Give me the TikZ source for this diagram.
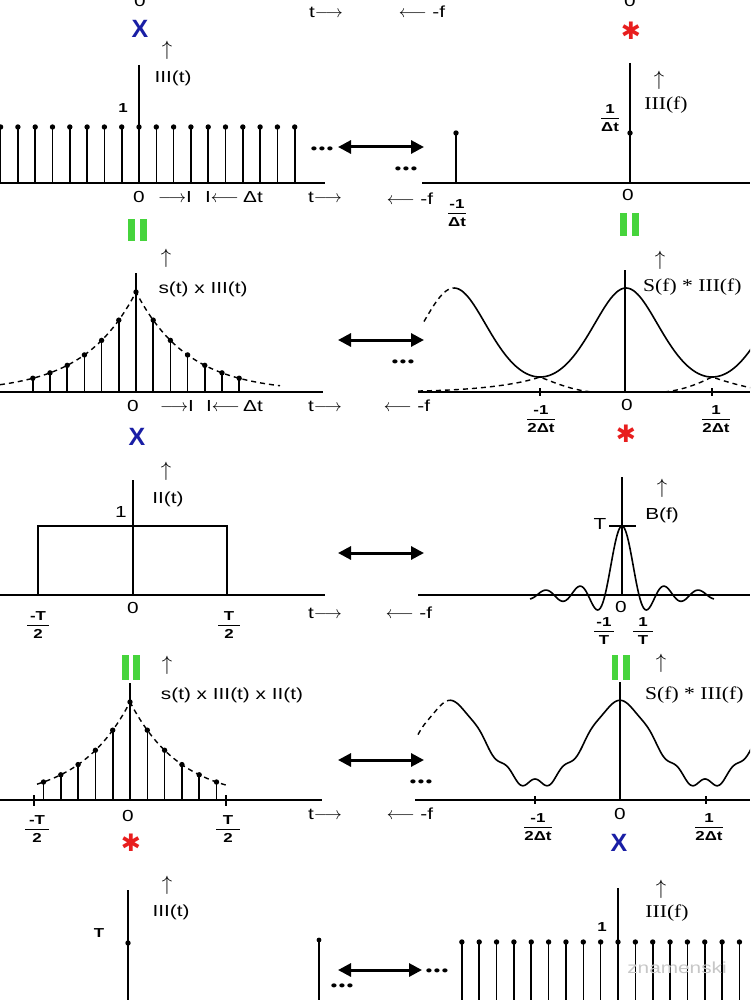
\documentclass[tikz,border=0pt]{standalone}
\usepackage{amsmath}
\usepackage{fontspec}
\setmainfont{Liberation Sans}[FakeStretch=1.3]
\newfontfamily\serifx{Liberation Serif}[FakeStretch=1.2]
\newfontfamily\xfont{Liberation Sans}
\newfontfamily\dv{DejaVu Sans}
\usetikzlibrary{arrows.meta}
\definecolor{xblue}{RGB}{25,30,165}
\definecolor{xred}{RGB}{232,30,30}
\definecolor{xgreen}{RGB}{70,212,60}
\newcommand\fr[2]{\ensuremath{\genfrac{}{}{1pt}{0}{\hbox{#1}}{\hbox{#2}}}}
\newcommand\frw[3]{\ensuremath{\genfrac{}{}{1pt}{0}{\hbox to #1{\hss#2\hss}}{\hbox to #1{\hss#3\hss}}}}
\newcommand\tdots{\textbullet\hspace{1.6pt}\textbullet\hspace{1.6pt}\textbullet}
\tikzset{
 ax/.style={line width=1.7pt},
 vax/.style={line width=1.2pt},
 stm/.style={line width=1.6pt},
 crv/.style={line width=1.6pt},
 dsh/.style={line width=1.4pt, dash pattern=on 5pt off 4pt},
 dbl/.style={line width=3pt, {Triangle[length=13pt,width=13pt]}-{Triangle[length=13pt,width=13pt]}},
 lab/.style={inner sep=0pt, font=\fontsize{16}{18}\selectfont},
 slab/.style={inner sep=0pt, font=\serifx\fontsize{18}{20}\selectfont},
 frac/.style={inner sep=0pt, font=\bfseries\fontsize{13}{15}\selectfont},
 bx/.style={inner sep=0pt, text=xblue, font=\xfont\bfseries\fontsize{25}{25}\selectfont},
 rs/.style={inner sep=0pt, text=xred, font=\dv\bfseries\fontsize{24}{24}\selectfont},
 gbar/.style={fill=xgreen},
 up/.style={inner sep=0pt, font=\fontsize{22}{22}\selectfont},
 tdot/.style={inner sep=0pt, font=\bfseries\fontsize{14}{14}\selectfont},
 wm/.style={inner sep=0pt, text=black!22, font=\fontsize{16}{18}\selectfont},
 declare function={pk(\u)=0.9856/(1.0144-0.24*cos(\u/172*360));
                   pq(\u)=0.9856/(1.0144-0.24*cos(\u/170*360));
                   rp(\u)=5*cos(\u/170*2160)*(0.15+0.425*(1-cos(\u/170*360)));}
}
\begin{document}
\begin{tikzpicture}[x=1pt,y=-1pt]
\useasboundingbox (0,0) rectangle (750,1000);
\fill[white] (0,0) rectangle (750,1000);
\clip (0,0) rectangle (750,1000);

% ---------- top labels
\node[lab] (z0a) at (140,1) {0};
\node[bx] (xa) at (140,29) {X};
\node[lab] (ta) at (326,12) {t$\longrightarrow$};
\node[lab] (fa) at (422,12) {$\longleftarrow$ -f};
\node[lab] (z0b) at (630,1) {0};
\node[rs] (sa) at (631,31) {✱};

% ---------- panel 1 left
\draw[ax] (0,183) -- (325,183);
\draw[vax] (139,65) -- (139,183);
\foreach \k in {-8,...,9}{
  \draw[stm] ({139+17.3*\k},183) -- ({139+17.3*\k},127);
  \fill ({139+17.3*\k},127) circle (2.7);
}
\node[up] (u1) at (167,50) {$\uparrow$};
\node[lab] (l1) at (173,78) {III(t)};
\node[frac] (one1) at (123,108) {1};
\node[lab] (o1) at (139,197) {0};
\node[lab] (r1) at (175,197) {$\longrightarrow$I};
\node[lab] (q1) at (222,197) {I$\longleftarrow$};
\node[lab] (d1) at (253,197) {Δt};
\node[lab] (t1) at (325,197) {t$\longrightarrow$};
\node[tdot] (e1) at (322,150) {\tdots};

% ---------- panel 1 right
\draw[ax] (422,183) -- (750,183);
\draw[vax] (630,63) -- (630,183);
\draw[stm] (456,183) -- (456,133);
\fill (456,133) circle (2.7);
\fill (630,133) circle (2.7);
\node[up] (u1r) at (659,80) {$\uparrow$};
\node[slab] (l1r) at (666,105) {III(f)};
\node[frac] (h1r) at (610,118) {\fr{1}{Δt}};
\node[tdot] (e1r) at (406,170) {\tdots};
\node[lab] (f1r) at (410,199) {$\longleftarrow$ -f};
\node[frac] (m1r) at (457,213) {\fr{-1}{Δt}};
\node[lab] (o1r) at (628,195) {0};

\coordinate (a1l) at (338,147); \coordinate (a1r) at (424,147);
\draw[dbl] (a1l) -- (a1r);

% ---------- equals bars 1->2
\fill[gbar] (128,219) rectangle (135,241);
\fill[gbar] (140,219) rectangle (147,241);
\fill[gbar] (620,213) rectangle (627,236);
\fill[gbar] (632,213) rectangle (639,236);

% ---------- panel 2 left
\draw[ax] (0,392) -- (323,392);
\draw[vax] (136,273) -- (136,392);
\draw[dsh] plot[domain=0:280, samples=141] (\x, {392-100*exp(-abs(\x-136)/52)});
\foreach \k in {-6,...,6}{
  \draw[stm] ({136+17.2*\k},392) -- ({136+17.2*\k},{392-100*exp(-abs(17.2*\k)/52)});
  \fill ({136+17.2*\k},{392-100*exp(-abs(17.2*\k)/52)}) circle (2.7);
}
\node[up] (u2) at (166,258) {$\uparrow$};
\node[lab] (l2) at (203,289) {s(t) x III(t)};
\node[lab] (o2) at (133,406) {0};
\node[lab] (r2) at (177,406) {$\longrightarrow$I};
\node[lab] (q2) at (223,406) {I$\longleftarrow$};
\node[lab] (d2) at (253,406) {Δt};
\node[lab] (t2) at (325,406) {t$\longrightarrow$};
\node[bx] (x2) at (137,437) {X};

% ---------- panel 2 right
\draw[ax] (418,392) -- (750,392);
\draw[vax] (625,270) -- (625,392);
\draw[crv] plot[domain=454:752, samples=150] (\x, {392-(15+89*(pk(\x-626)-0.785714)/0.487013)});
\draw[dsh] plot[domain=424:454, samples=16] (\x, {392-(15+89*(pk(\x-626)-0.785714)/0.487013)});
\draw[dsh] (418,391) .. controls (480,390) and (520,384) .. (540,377)
           .. controls (555,383) and (572,390) .. (592,392);
\draw[dsh] (664,392) .. controls (684,390) and (700,383) .. (712,377)
           .. controls (730,383) and (742,386) .. (752,388);
\draw[vax] (540,388) -- (540,396);
\draw[vax] (712,388) -- (712,396);
\node[up] (u2r) at (660,260) {$\uparrow$};
\node[slab, anchor=west] (l2r) at (643,287) {S(f) * III(f)};
\node[tdot] (e2r) at (403,363) {\tdots};
\node[lab] (f2r) at (407,406) {$\longleftarrow$ -f};
\node[frac] (m2r) at (541,419) {\fr{-1}{2Δt}};
\node[lab] (o2r) at (627,405) {0};
\node[frac] (p2r) at (716,419) {\fr{1}{2Δt}};
\node[rs] (s2r) at (626,434) {✱};

\coordinate (a2l) at (338,340); \coordinate (a2r) at (424,340);
\draw[dbl] (a2l) -- (a2r);

% ---------- panel 3 left
\draw[ax] (0,595) -- (325,595);
\draw[vax] (133,480) -- (133,595);
\draw[crv] (38,595) -- (38,526) -- (227,526) -- (227,595);
\node[up] (u3) at (166,471) {$\uparrow$};
\node[lab] (l3) at (168,499) {II(t)};
\node[lab] (one3) at (121,512) {1};
\node[frac] (m3) at (38,625) {\frw{22pt}{-T}{2}};
\node[lab] (o3) at (133,608) {0};
\node[frac] (p3) at (229,625) {\frw{22pt}{T}{2}};
\node[lab] (t3) at (325,613) {t$\longrightarrow$};

% ---------- panel 3 right
\draw[ax] (418,595) -- (750,595);
\draw[vax] (622,477) -- (622,595);
\draw[crv] plot[domain=-92:92, samples=184] ({622+\x}, {595-69*sin(\x/17*180)/(3.14159*\x/17)});
\draw[vax] (609,526) -- (636,526);
\node[up] (u3r) at (662,488) {$\uparrow$};
\node[lab] (l3r) at (662,515) {B(f)};
\node[lab] (tt3) at (600,524) {T};
\node[lab] (o3r) at (621,607) {0};
\node[frac] (m3r) at (604,631) {\frw{20pt}{-1}{T}};
\node[frac] (p3r) at (643,631) {\frw{20pt}{1}{T}};
\node[lab] (f3r) at (409,613) {$\longleftarrow$ -f};

\coordinate (a3l) at (338,553); \coordinate (a3r) at (424,553);
\draw[dbl] (a3l) -- (a3r);

% ---------- equals bars 3->4
\fill[gbar] (122,655) rectangle (129,680);
\fill[gbar] (133,655) rectangle (140,680);
\fill[gbar] (612,655) rectangle (618,680);
\fill[gbar] (623,655) rectangle (630,680);

% ---------- panel 4 left
\draw[ax] (0,800) -- (322,800);
\draw[vax] (130,683) -- (130,800);
\draw[dsh] plot[domain=37:226, samples=96] (\x, {800-98*exp(-abs(\x-130)/51)});
\foreach \k in {-5,...,5}{
  \draw[stm] ({130+17.3*\k},800) -- ({130+17.3*\k},{800-98*exp(-abs(17.3*\k)/51)});
  \fill ({130+17.3*\k},{800-98*exp(-abs(17.3*\k)/51)}) circle (2.7);
}
\draw[vax] (34,795) -- (34,806);
\draw[vax] (226,795) -- (226,806);
\node[up] (u4) at (167,665) {$\uparrow$};
\node[lab] (l4) at (232,695) {s(t) x III(t) x II(t)};
\node[frac] (m4) at (37,829) {\frw{24pt}{-T}{2}};
\node[lab] (o4) at (128,816) {0};
\node[frac] (p4) at (228,829) {\frw{24pt}{T}{2}};
\node[rs] (s4) at (131,843) {✱};
\node[lab] (t4) at (325,814) {t$\longrightarrow$};

% ---------- panel 4 right
\draw[ax] (415,800) -- (750,800);
\draw[vax] (620,682) -- (620,800);
\draw[crv] plot[domain=450:752, samples=300] (\x, {800-(16+83*(pq(\x-620)-0.785714)/0.487013+rp(\x-620))});
\draw[dsh] plot[domain=418:450, samples=17] (\x, {800-(16+83*(pq(\x-620)-0.785714)/0.487013+rp(\x-620))});
\draw[vax] (535,796) -- (535,804);
\draw[vax] (706,796) -- (706,804);
\node[up] (u4r) at (661,663) {$\uparrow$};
\node[slab, anchor=west] (l4r) at (645,695) {S(f) * III(f)};
\node[tdot] (e4r) at (421,783) {\tdots};
\node[lab] (f4r) at (410,814) {$\longleftarrow$ -f};
\node[frac] (m4r) at (538,827) {\fr{-1}{2Δt}};
\node[lab] (o4r) at (620,814) {0};
\node[frac] (p4r) at (709,827) {\fr{1}{2Δt}};
\node[bx] (x4r) at (619,843) {X};

\coordinate (a4l) at (338,760); \coordinate (a4r) at (424,760);
\draw[dbl] (a4l) -- (a4r);

% ---------- panel 5 left
\draw[vax] (128,890) -- (128,1000);
\fill (128,943) circle (2.7);
\draw[stm] (319,1000) -- (319,940);
\fill (319,940) circle (2.4);
\node[up] (u5) at (167,885) {$\uparrow$};
\node[lab] (l5) at (171,912) {III(t)};
\node[frac] (tt5) at (99,933) {T};
\node[tdot] (e5) at (342,987) {\tdots};

% ---------- panel 5 right
\foreach \k in {-9,...,7}{
  \draw[stm] ({618+17.35*\k},1000) -- ({618+17.35*\k},942);
  \fill ({618+17.35*\k},942) circle (2.7);
}
\draw[vax] (618,888) -- (618,1000);
\node[up] (u5r) at (661,889) {$\uparrow$};
\node[slab] (l5r) at (667,913) {III(f)};
\node[frac] (one5) at (602,927) {1};
\node[tdot] (e5r) at (437,972) {\tdots};
\node[wm] (wm) at (677,968) {znamenski};

\coordinate (a5l) at (338,970); \coordinate (a5r) at (422,970);
\draw[dbl] (a5l) -- (a5r);
\end{tikzpicture}
\end{document}
